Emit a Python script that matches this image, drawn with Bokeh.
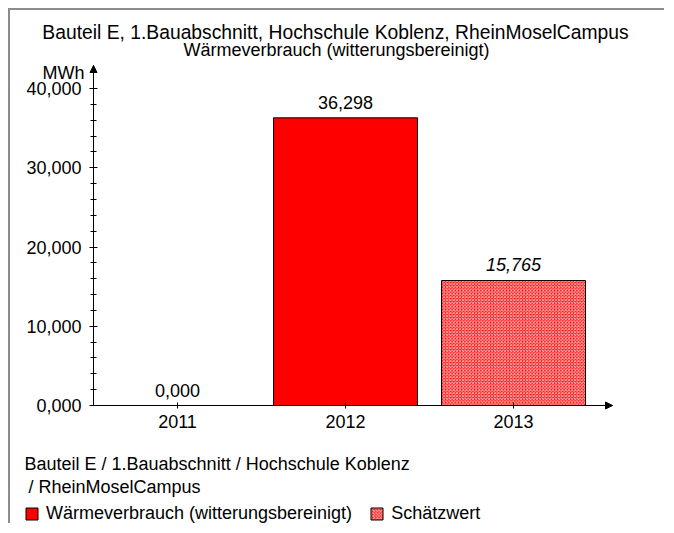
from bokeh.plotting import figure
from bokeh.models import (ColumnDataSource, FixedTicker, Label, Arrow, NormalHead,
                          Legend, LegendItem)
from bokeh.core.properties import value
from bokeh.embed import file_html
from bokeh.resources import INLINE

# ---- data ----
years = ["2011", "2012", "2013"]
values = [0.0, 36.298, 15.765]          # MWh
estimated = [False, False, True]
y_ticks = [0, 10, 20, 30, 40]
y_minor = [2, 4, 6, 8, 12, 14, 16, 18, 22, 24, 26, 28, 32, 34, 36, 38]
title1 = "Bauteil E, 1.Bauabschnitt, Hochschule Koblenz, RheinMoselCampus"
title2 = "Wärmeverbrauch (witterungsbereinigt)"
foot1 = "Bauteil E / 1.Bauabschnitt / Hochschule Koblenz"
foot2 = "/ RheinMoselCampus"
leg_labels = ["Wärmeverbrauch (witterungsbereinigt)", "Schätzwert"]
unit = "MWh"

FONT = "Liberation Sans"
FS = "18px"

def fmt(v):
    return f"{v:.3f}".replace(".", ",")

# ---- geometry (page pixels) ----
MARG, BORDER = 8, 2
ORG = MARG + BORDER               # canvas origin on the page
W, H = 656, 515
AX_LEFT, AX_RIGHT, AX_TOP, AX_ZERO = 93, 612, 65, 405   # axis positions
PX_PER_CAT = 168.0
PX_PER_UNIT = 317.0 / 40.0

def px2x(px):
    return -0.5 + (px - AX_LEFT) / PX_PER_CAT

def py2y(py):
    return (AX_ZERO - py) / PX_PER_UNIT

X0, X1 = px2x(ORG), px2x(ORG + W)
Y0, Y1 = py2y(ORG + H), py2y(ORG)
XA_END = px2x(AX_RIGHT)
YA_END = py2y(AX_TOP)

xs = list(range(len(years)))
meas = dict(x=[x for x, e in zip(xs, estimated) if not e],
            top=[v for v, e in zip(values, estimated) if not e])
est = dict(x=[x for x, e in zip(xs, estimated) if e],
           top=[v for v, e in zip(values, estimated) if e])
for d in (meas, est):
    d["lab"] = [fmt(v) for v in d["top"]]

p = figure(width=W, height=H, x_range=(X0, X1), y_range=(Y0, Y1),
           output_backend="svg", toolbar_location=None, title=None,
           min_border=0)
p.styles = {"margin-left": f"{MARG}px", "margin-top": f"{MARG}px",
            "border-top": f"{BORDER}px solid #8c8c8c",
            "border-left": f"{BORDER}px solid #8c8c8c"}
p.outline_line_color = None
p.grid.visible = False

src_m = ColumnDataSource(meas)
src_e = ColumnDataSource(est)
BW = 144 / 168
r_m = p.vbar(x="x", top="top", width=BW, source=src_m, fill_color="#ff0000",
             line_color="black", line_width=1)
r_e = p.vbar(x="x", top="top", width=BW, source=src_e, fill_color="#ff0000",
             line_color="black", line_width=1, hatch_pattern="diagonal_cross",
             hatch_color="white", hatch_scale=3.2, hatch_weight=0.9, hatch_alpha=0.75)

p.text(x="x", y="top", text="lab", source=src_m, text_align="center",
       text_baseline="middle", y_offset=-15, text_font=value(FONT),
       text_font_size=FS, text_color="black")
p.text(x="x", y="top", text="lab", source=src_e, text_align="center",
       text_baseline="middle", y_offset=-16, text_font=value(FONT),
       text_font_size=FS, text_font_style="italic", text_color="black")

# axes (fixed inside the frame)
xa = p.xaxis[0]
xa.fixed_location = 0
xa.bounds = (-0.5, XA_END)
xa.ticker = FixedTicker(ticks=xs)
xa.major_label_overrides = {x: y for x, y in zip(xs, years)}
xa.minor_tick_line_color = None
xa.major_tick_in = 3
xa.major_tick_out = 3
xa.major_label_standoff = 6
xa.major_label_text_font = FONT
xa.major_label_text_font_size = FS
xa.major_label_text_color = "black"

ya = p.yaxis[0]
ya.fixed_location = -0.5
ya.bounds = (0, YA_END)
ya.ticker = FixedTicker(ticks=y_ticks, minor_ticks=y_minor)
ya.major_label_overrides = {t: fmt(t) for t in y_ticks}
ya.major_tick_in = 4
ya.major_tick_out = 4
ya.minor_tick_in = 3
ya.minor_tick_out = 3
ya.major_label_standoff = 8
ya.major_label_text_font = FONT
ya.major_label_text_font_size = FS
ya.major_label_text_color = "black"

p.add_layout(Arrow(x_start=-0.5, y_start=YA_END - 1.5, x_end=-0.5, y_end=YA_END,
                   line_color="black", line_width=1,
                   end=NormalHead(size=7, fill_color="black", line_color="black")))
p.add_layout(Arrow(x_start=XA_END - 0.08, y_start=0, x_end=XA_END, y_end=0,
                   line_color="black", line_width=1,
                   end=NormalHead(size=7, fill_color="black", line_color="black")))

def lab(text, px, py, align="left", size=FS):
    p.add_layout(Label(x=px2x(px), y=py2y(py), text=text, text_align=align,
                       text_baseline="middle", text_font=FONT, text_font_size=size,
                       text_color="black"))

lab(title1, 335, 32, "center", "19.3px")
lab(title2, 336, 49, "center")
lab(unit, 84, 72, "right")
lab(foot1, 24, 463)
lab(foot2, 28, 486)

legend = Legend(items=[LegendItem(label=leg_labels[0], renderers=[r_m]),
                       LegendItem(label=leg_labels[1], renderers=[r_e])],
                orientation="horizontal", location=(24 - ORG, ORG + H - 524),
                padding=0, margin=0, spacing=17, glyph_width=15, glyph_height=15,
                label_height=15, label_standoff=7, border_line_color=None,
                background_fill_alpha=0, label_text_font=FONT,
                label_text_font_size=FS, label_text_color="black")
p.add_layout(legend, "center")

open("out.html", "w").write(file_html(p, INLINE))
